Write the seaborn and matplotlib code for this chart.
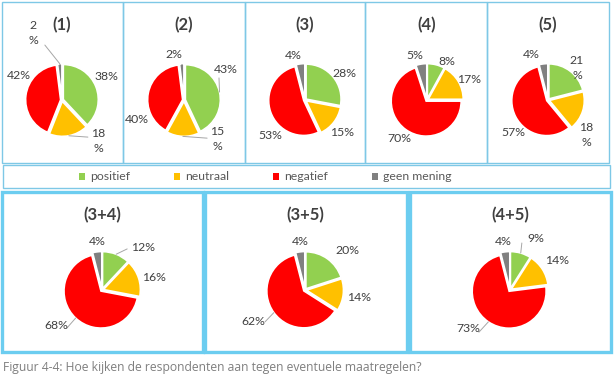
import matplotlib
matplotlib.use("Agg")
import matplotlib.pyplot as plt
import seaborn as sns
import numpy as np
from matplotlib.patches import Rectangle, Patch

CATEGORIES = ["positief", "neutraal", "negatief", "geen mening"]
COLORS = ["#92D050", "#FFC000", "#FF0000", "#808080"]

TITLES = ["(1)", "(2)", "(3)", "(4)", "(5)", "(3+4)", "(3+5)", "(4+5)"]
SHARE_1 = [38, 18, 42, 2]
SHARE_2 = [43, 15, 40, 2]
SHARE_3 = [28, 15, 53, 4]
SHARE_4 = [8, 17, 70, 5]
SHARE_5 = [21, 18, 57, 4]
SHARE_34 = [12, 16, 68, 4]
SHARE_35 = [20, 14, 62, 4]
SHARE_45 = [9, 14, 73, 4]
SHARES = [SHARE_1, SHARE_2, SHARE_3, SHARE_4, SHARE_5, SHARE_34, SHARE_35, SHARE_45]

CAPTION = "Figuur 4-4: Hoe kijken de respondenten aan tegen eventuele maatregelen?"

# ---- layout (pixels, origin top-left) ----
W, H = 614, 374
# pie centre x, centre y, radius
PIE_GEOM = [(62, 100, 35), (184, 100, 35), (305, 100, 35), (427, 100, 35), (548, 100, 35),
            (102, 290, 37), (305, 290, 37), (510, 290, 37)]
TITLE_Y = [25] * 5 + [215] * 3
# label positions in units of radius, relative to pie centre
LABEL_POS = [
    [(1.26, 0.66), (1.03, -1.17), (-1.23, 0.69), (-0.83, 1.91)],
    [(1.20, 0.86), (0.94, -1.11), (-1.34, -0.57), (-0.29, 1.31)],
    [(1.14, 0.77), (1.06, -0.94), (-1.00, -1.00), (-0.34, 1.26)],
    [(0.57, 1.11), (1.20, 0.60), (-0.80, -1.11), (-0.34, 1.26)],
    [(0.83, 0.91), (1.09, -1.00), (-1.00, -0.94), (-0.49, 1.29)],
    [(1.10, 1.16), (1.40, 0.35), (-1.24, -0.95), (-0.14, 1.30)],
    [(1.14, 1.08), (1.46, -0.19), (-1.40, -0.86), (-0.14, 1.32)],
    [(0.70, 1.38), (1.27, 0.81), (-1.14, -1.05), (-0.19, 1.30)],
]
WRAPPED = {0: [1, 3], 1: [1], 4: [0, 1]}
LEADERS = {
    0: [(3, (-0.49, 1.57)), (1, (0.74, -1.06))],
    1: [(0, (1.0, 0.63)), (1, (0.66, -1.09))],
    5: [(0, (0.68, 1.11)), (2, (-0.95, -1.03))],
    6: [(2, (-1.08, -0.86))],
    7: [(0, (0.32, 1.27)), (2, (-0.84, -1.14))],
}

TEXT = "#404040"
BORDER = "#7EC8E6"
BORDER_THICK = "#6CCDF0"

sns.set_theme(style="white")
plt.rcParams["font.family"] = ["Lato", "DejaVu Sans"]

fig = plt.figure(figsize=(W / 100, H / 100), dpi=100)
fig.patch.set_facecolor("white")


def box(x0, y0, x1, y1, color, lw):
    fig.patches.append(Rectangle((x0 / W, 1 - y1 / H), (x1 - x0) / W, (y1 - y0) / H,
                                 transform=fig.transFigure, fill=False,
                                 edgecolor=color, linewidth=lw))


# panel borders
top_edges = [2, 123, 245, 365, 487, 609]
for i in range(5):
    box(top_edges[i], 2, top_edges[i + 1], 163, BORDER, 1.0)
box(3, 165, 610, 188, BORDER, 1.0)
for x0, x1 in [(2, 203), (205, 407), (410, 611)]:
    box(x0, 192, x1, 352, BORDER_THICK, 2.4)

palette = sns.color_palette(COLORS)

for k, (title, shares) in enumerate(zip(TITLES, SHARES)):
    cx, cy, r = PIE_GEOM[k]
    ax = fig.add_axes([(cx - 2 * r) / W, 1 - (cy + 2 * r) / H, 4 * r / W, 4 * r / H])
    wedges, _ = ax.pie(shares, colors=palette, startangle=90, counterclock=False,
                       explode=[0.04] * 4,
                       wedgeprops=dict(edgecolor="white", linewidth=1.2))
    ax.set_xlim(-2, 2)
    ax.set_ylim(-2, 2)
    ax.set_aspect("equal")
    ax.axis("off")
    for j, v in enumerate(shares):
        s = f"{v}\n%" if j in WRAPPED.get(k, []) else f"{v}%"
        lx, ly = LABEL_POS[k][j]
        ax.text(lx, ly, s, ha="center", va="center", fontsize=8.8, color=TEXT,
                linespacing=1.4)
    for j, (ex, ey) in LEADERS.get(k, []):
        w = wedges[j]
        ang = np.deg2rad((w.theta1 + w.theta2) / 2)
        sx, sy = w.center[0] + np.cos(ang), w.center[1] + np.sin(ang)
        ax.plot([sx, ex], [sy, ey], color="#A6A6A6", lw=0.7)
    fig.text(cx / W, 1 - TITLE_Y[k] / H, title, ha="center", va="center",
             fontsize=12, fontweight="bold", color=TEXT)

handles = [Patch(facecolor=c, edgecolor="none", label=n) for c, n in zip(COLORS, CATEGORIES)]
fig.legend(handles=handles, loc="center", bbox_to_anchor=(265 / W, 1 - 177 / H),
           ncol=4, frameon=False, fontsize=8.8, handlelength=0.5, handleheight=0.5,
           handletextpad=0.4, columnspacing=3.6, labelcolor="#595959")

fig.text(3 / W, 1 - 367 / H, CAPTION, ha="left", va="center", fontsize=8.7,
         color="#7F7F7F", family=["Open Sans", "DejaVu Sans"])

fig.savefig("out.png", dpi=100)
